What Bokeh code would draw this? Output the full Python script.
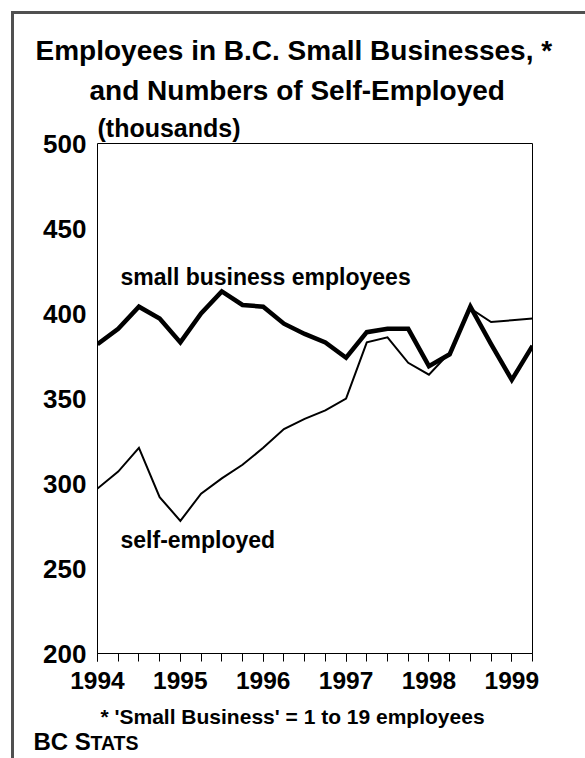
from bokeh.plotting import figure
from bokeh.models import Range1d, FixedTicker, Label, Title
from bokeh.embed import file_html
from bokeh.resources import INLINE

# ---- data (thousands), quarterly 1994 Q1 .. 1999 Q2 ----
years = [1994]*4 + [1995]*4 + [1996]*4 + [1997]*4 + [1998]*4 + [1999]*2
quarters = [1, 2, 3, 4]*5 + [1, 2]
small_business = [382, 391, 404, 397, 383, 400, 413, 405, 404, 394, 388,
                  383, 374, 389, 391, 391, 369, 376, 404, 382, 361, 381]
self_employed = [297, 307, 321, 292, 278, 294, 303, 311, 321, 332, 338,
                 343, 350, 383, 386, 371, 364, 377, 403, 395, 396, 397]
year_ticks = [1994, 1995, 1996, 1997, 1998, 1999]
value_ticks = [200, 250, 300, 350, 400, 450, 500]

x = [y + (q - 1) / 4 for y, q in zip(years, quarters)]

FONT = "Liberation Sans"

p = figure(width=571, height=744, output_backend="svg", toolbar_location=None,
           x_range=Range1d(x[0], x[-1]), y_range=Range1d(200, 500),
           min_border_left=83, min_border_right=53,
           min_border_top=129, min_border_bottom=105,
           margin=(14, 0, 0, 14))
p.styles = {"outline": "3px solid #505050", "outline-offset": "0px"}
p.grid.visible = False
p.outline_line_color = "black"
p.outline_line_width = 1
p.background_fill_color = "white"
p.border_fill_color = "white"

# x axis: quarterly tick marks, year labels
p.xaxis.ticker = FixedTicker(ticks=year_ticks, minor_ticks=x)
p.xaxis.axis_line_color = "black"
p.xaxis.major_tick_out = 8
p.xaxis.major_tick_in = 0
p.xaxis.minor_tick_out = 8
p.xaxis.minor_tick_in = 0
p.xaxis.major_tick_line_color = "black"
p.xaxis.minor_tick_line_color = "black"
p.xaxis.major_label_text_font = FONT
p.xaxis.major_label_text_font_style = "bold"
p.xaxis.major_label_text_font_size = "24.5px"
p.xaxis.major_label_text_color = "black"
p.xaxis.major_label_standoff = 10

# y axis: labels only
p.yaxis.ticker = FixedTicker(ticks=value_ticks)
p.yaxis.axis_line_color = None
p.yaxis.major_tick_line_color = None
p.yaxis.minor_tick_line_color = None
p.yaxis.major_tick_out = 0
p.yaxis.major_tick_in = 0
p.yaxis.major_label_text_font = FONT
p.yaxis.major_label_text_font_style = "bold"
p.yaxis.major_label_text_font_size = "26px"
p.yaxis.major_label_text_color = "black"
p.yaxis.major_label_standoff = 11

p.line(x, self_employed, line_width=2, line_color="black", line_join="miter")
p.line(x, small_business, line_width=4.5, line_color="black", line_join="miter")


def inner(text, sx, sy, size):
    p.add_layout(Label(x=sx, y=sy, x_units="screen", y_units="screen", text=text,
                       text_font=FONT, text_font_style="bold",
                       text_font_size=size, text_color="black",
                       text_align="left", text_baseline="alphabetic"))


inner("small business employees", 23, 377, "23px")
inner("self-employed", 23, 114, "23px")


def title(text, side, size, offset, standoff, valign="bottom"):
    p.add_layout(Title(text=text, align="left", offset=offset, standoff=standoff,
                       vertical_align=valign,
                       text_font=FONT, text_font_style="bold",
                       text_font_size=size, text_color="black"), side)


# above: added from the frame outward
title("(thousands)", "above", "25px", 0, 4)
title("and Numbers of Self-Employed", "above", "28px", -8, 4, "top")
title("Employees in B.C. Small Businesses, *", "above", "28px", -62, 14)
# below: after the x axis, outward
title("* 'Small Business' = 1 to 19 employees", "below", "21px", 3, 22)
title("BC S", "below", "24px", -64, -26)
title("TATS", "below", "19.5px", -7, -21.7)

open("out.html", "w").write(file_html(p, INLINE))
